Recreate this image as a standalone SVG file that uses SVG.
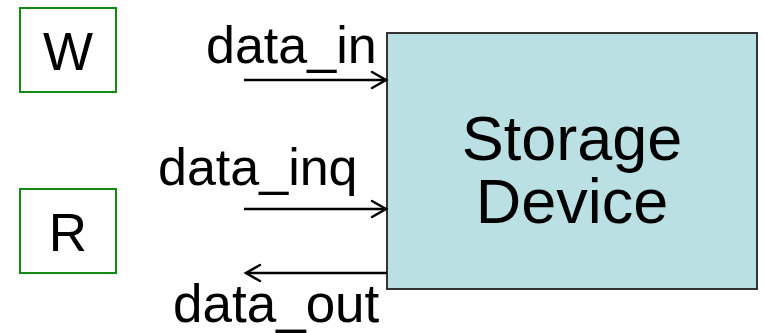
<svg xmlns="http://www.w3.org/2000/svg" width="763" height="333" viewBox="0 0 763 333">
<style>
text{font-family:"Liberation Sans",Arial,sans-serif;fill:#000}
.sq{fill:#fff;stroke:#138a13;stroke-width:2}
.dev{fill:#bbe0e3;stroke:#333;stroke-width:2}
.ln{stroke:#000;stroke-width:2.5;fill:none}
.hd{stroke:#000;stroke-width:2.5;fill:none;stroke-linecap:round;stroke-linejoin:miter}
</style>
<rect width="763" height="333" fill="#fff"/>
<g id="W"><rect class="sq" x="20" y="8" width="96" height="84"/><text x="68" y="70" font-size="53" text-anchor="middle">W</text></g>
<g id="R"><rect class="sq" x="20" y="189" width="96" height="84"/><text x="68" y="251" font-size="53" text-anchor="middle">R</text></g>
<g id="storage"><rect class="dev" x="387" y="33" width="370" height="256"/><text font-size="63" text-anchor="middle"><tspan x="572" y="160">Storage</tspan><tspan x="572" y="223">Device</tspan></text></g>
<g id="connectors">
<line class="ln" x1="244" y1="80" x2="386" y2="80"/><polyline class="hd" points="372,72 386,80 372,88"/>
<line class="ln" x1="244" y1="209" x2="386" y2="209"/><polyline class="hd" points="372,201 386,209 372,217"/>
<line class="ln" x1="387" y1="273" x2="246" y2="273"/><polyline class="hd" points="260,265 246,273 260,281"/>
</g>
<g id="labels">
<text x="206" y="63" font-size="52">data_in</text>
<text x="158" y="185" font-size="52">data_inq</text>
<text x="173" y="322" font-size="53">data_out</text>
</g>
</svg>
